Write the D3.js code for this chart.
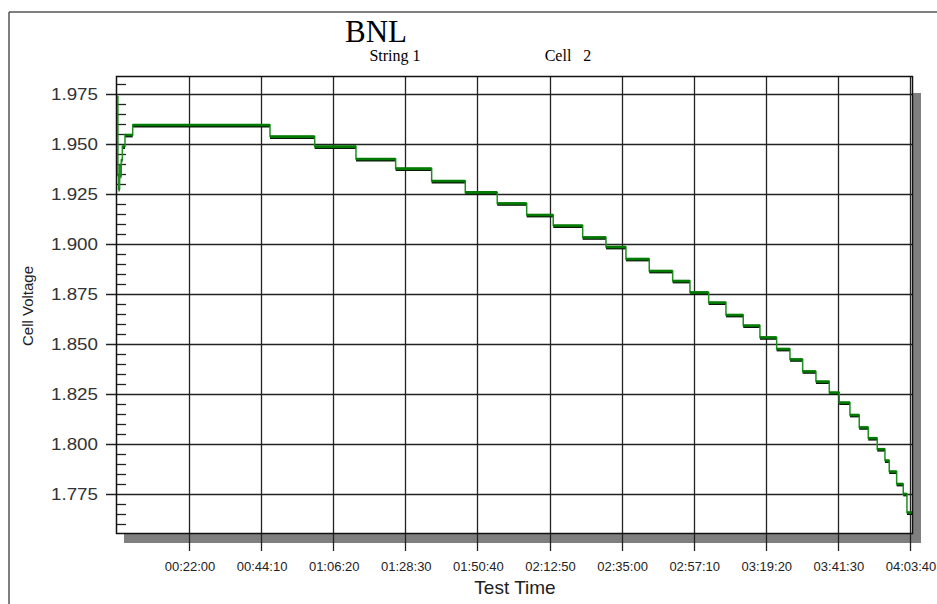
<!DOCTYPE html>
<html>
<head>
<meta charset="utf-8">
<script src="https://cdn.jsdelivr.net/npm/d3@7/dist/d3.min.js"></script>
<style>
  html, body { margin: 0; padding: 0; background: #fff; }
  svg { display: block; }
</style>
</head>
<body>
<svg id="chart" width="937" height="604"></svg>
<script>
// ---------------- data ----------------
const title = "BNL";
const subtitleLeft = "String 1";
const subtitleRight = "Cell   2";
const xAxisTitle = "Test Time";
const yAxisTitle = "Cell Voltage";

// x tick positions (seconds of test time) and labels
const xTickValues = [1320, 2650, 3980, 5310, 6640, 7970, 9300, 10630, 11960, 13290, 14620];
const xTickLabels = ["00:22:00", "00:44:10", "01:06:20", "01:28:30", "01:50:40", "02:12:50",
                     "02:35:00", "02:57:10", "03:19:20", "03:41:30", "04:03:40"];
// y major ticks
const yTickValues = [1.775, 1.800, 1.825, 1.850, 1.875, 1.900, 1.925, 1.950, 1.975];
const yTickLabels = ["1.775", "1.800", "1.825", "1.850", "1.875", "1.900", "1.925", "1.950", "1.975"];
const yMinorTicks = [1.760, 1.765, 1.770, 1.780, 1.785, 1.790, 1.795, 1.805, 1.810, 1.815, 1.820,
                     1.830, 1.835, 1.840, 1.845, 1.855, 1.860, 1.865, 1.870, 1.880, 1.885, 1.890,
                     1.895, 1.905, 1.910, 1.915, 1.920, 1.930, 1.935, 1.940, 1.945, 1.955, 1.960,
                     1.965, 1.970, 1.980];

// step series: time (s) at which each level starts, and the cell voltage level
const stepTimes = [0, 8, 20, 40, 55, 70, 90, 139, 281,
                   2814, 3638, 4400, 5132, 5796, 6416, 7006, 7549, 8039, 8582,
                   9012, 9380, 9810, 10242, 10561, 10906, 11225, 11544, 11852, 12160,
                   12406, 12640, 12885, 13131, 13315, 13512, 13684, 13850, 14016, 14158,
                   14237, 14374, 14496, 14564, 14657];
const stepVolts = [1.9737, 1.9345, 1.9275, 1.9395, 1.9340, 1.9420, 1.9487, 1.9545, 1.9595,
                   1.9537, 1.9487, 1.9425, 1.9377, 1.9315, 1.9258, 1.9203, 1.9145, 1.9092, 1.9033,
                   1.8985, 1.8925, 1.8865, 1.8815, 1.8758, 1.8707, 1.8645, 1.8592, 1.8533, 1.8475,
                   1.8423, 1.8363, 1.8312, 1.8257, 1.8207, 1.8145, 1.8083, 1.8029, 1.7974, 1.7917,
                   1.7862, 1.7800, 1.7750, 1.7657, 1.7657];

const xDomain = [-27, 14657];
const yDomain = [1.7555, 1.984];

// ---------------- layout ----------------
const svg = d3.select("#chart");
const plot = { left: 116, top: 76, right: 912, bottom: 533 };

const x = d3.scaleLinear().domain(xDomain).range([plot.left, plot.right]);
const y = d3.scaleLinear().domain(yDomain).range([plot.bottom, plot.top]);

// outer frame
svg.append("line").attr("x1", 9).attr("x2", 9).attr("y1", 12).attr("y2", 604)
  .attr("stroke", "#555").attr("stroke-width", 1.5);
svg.append("line").attr("x1", 9).attr("x2", 937).attr("y1", 12).attr("y2", 12)
  .attr("stroke", "#555").attr("stroke-width", 1.5);

// titles
svg.append("text").attr("x", 376).attr("y", 42).attr("text-anchor", "middle")
  .attr("font-family", "'Liberation Serif', 'Times New Roman', serif").attr("font-size", 31)
  .text(title);
svg.append("text").attr("x", 395).attr("y", 61).attr("text-anchor", "middle")
  .attr("font-family", "'Liberation Serif', 'Times New Roman', serif").attr("font-size", 16)
  .text(subtitleLeft);
svg.append("text").attr("x", 568).attr("y", 61).attr("text-anchor", "middle")
  .attr("font-family", "'Liberation Serif', 'Times New Roman', serif").attr("font-size", 16)
  .attr("xml:space", "preserve").style("white-space", "pre")
  .text(subtitleRight);

// shadow
svg.append("rect")
  .attr("x", plot.left + 8).attr("y", plot.top + 17)
  .attr("width", plot.right - plot.left + 1).attr("height", plot.bottom - plot.top - 7)
  .attr("fill", "#7f7f7f");
// plot background
svg.append("rect")
  .attr("x", plot.left).attr("y", plot.top)
  .attr("width", plot.right - plot.left).attr("height", plot.bottom - plot.top)
  .attr("fill", "#fff");

// horizontal gridlines + outward major ticks
const gridColor = "#222";
svg.append("g").selectAll("line").data(yTickValues).join("line")
  .attr("x1", plot.left - 10).attr("x2", plot.right)
  .attr("y1", d => Math.round(y(d)) + 0.5).attr("y2", d => Math.round(y(d)) + 0.5)
  .attr("stroke", gridColor).attr("stroke-width", 1.3);
// minor ticks inside
svg.append("g").selectAll("line").data(yMinorTicks).join("line")
  .attr("x1", plot.left).attr("x2", plot.left + 10)
  .attr("y1", d => Math.round(y(d)) + 0.5).attr("y2", d => Math.round(y(d)) + 0.5)
  .attr("stroke", gridColor).attr("stroke-width", 1.3);
// vertical gridlines extending below axis
svg.append("g").selectAll("line").data(xTickValues).join("line")
  .attr("x1", d => Math.round(x(d)) + 0.5).attr("x2", d => Math.round(x(d)) + 0.5)
  .attr("y1", plot.top).attr("y2", plot.bottom + 18)
  .attr("stroke", gridColor).attr("stroke-width", 1.3);

// y tick labels
svg.append("g").selectAll("text").data(yTickValues).join("text")
  .attr("x", 98).attr("y", d => y(d) + 6)
  .attr("text-anchor", "end")
  .attr("font-family", "'Liberation Sans', Arial, sans-serif").attr("font-size", 17)
  .attr("fill", "#333")
  .attr("textLength", 47).attr("lengthAdjust", "spacingAndGlyphs")
  .text((d, i) => yTickLabels[i]);

// x tick labels
svg.append("g").selectAll("text").data(xTickValues).join("text")
  .attr("x", d => x(d) + 1).attr("y", 571)
  .attr("text-anchor", "middle")
  .attr("font-family", "'Liberation Sans', Arial, sans-serif").attr("font-size", 13)
  .attr("fill", "#222")
  .text((d, i) => xTickLabels[i]);

// axis titles
svg.append("text").attr("x", 515).attr("y", 594).attr("text-anchor", "middle")
  .attr("font-family", "'Liberation Sans', Arial, sans-serif").attr("font-size", 19)
  .attr("fill", "#222").text(xAxisTitle);
svg.append("text").attr("transform", "translate(33,306) rotate(-90)")
  .attr("text-anchor", "middle")
  .attr("font-family", "'Liberation Sans', Arial, sans-serif").attr("font-size", 15)
  .attr("fill", "#222").text(yAxisTitle);

// series
const pts = stepTimes.map((t, i) => ({ t, v: stepVolts[i] }));
const g = svg.append("g");
const segs = pts.slice(0, -1).map((p, i) => ({ t0: p.t, t1: pts[i + 1].t, v: p.v }));
// dark underline of horizontal levels
g.selectAll("line.shadow").data(segs).join("line").attr("class", "shadow")
  .attr("x1", d => x(d.t0)).attr("x2", d => x(d.t1))
  .attr("y1", d => y(d.v) + 1.4).attr("y2", d => y(d.v) + 1.4)
  .attr("stroke", "#0a1a0a").attr("stroke-width", 2);
// thin step path (vertical risers)
const line = d3.line().x(d => x(d.t)).y(d => y(d.v)).curve(d3.curveStepAfter);
g.append("path").datum(pts).attr("d", line)
  .attr("fill", "none").attr("stroke", "#1f8f1f").attr("stroke-width", 1.5);
// green horizontal levels
g.selectAll("line.lvl").data(segs).join("line").attr("class", "lvl")
  .attr("x1", d => x(d.t0)).attr("x2", d => x(d.t1))
  .attr("y1", d => y(d.v)).attr("y2", d => y(d.v))
  .attr("stroke", "#007a00").attr("stroke-width", 2.6);

// plot border
svg.append("rect")
  .attr("x", plot.left + 0.5).attr("y", plot.top + 0.5)
  .attr("width", plot.right - plot.left).attr("height", plot.bottom - plot.top)
  .attr("fill", "none").attr("stroke", "#111").attr("stroke-width", 1.5);
</script>
</body>
</html>
